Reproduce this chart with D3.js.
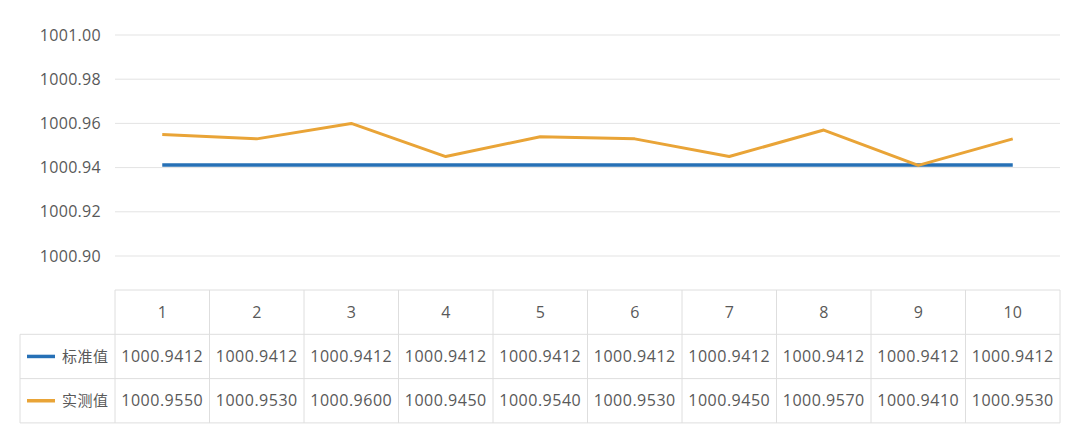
<!DOCTYPE html>
<html>
<head>
<meta charset="utf-8">
<script src="https://cdn.jsdelivr.net/npm/d3@7"></script>
<style>
  body { margin: 0; background: #fff; }
  svg text { font-family: "Open Sans", "Noto Sans CJK SC", sans-serif; fill: #595959; }
</style>
</head>
<body>
<div class="chart"></div>
<script>
// chart data
var categories = ['1', '2', '3', '4', '5', '6', '7', '8', '9', '10'];
var standardVals = [1000.9412, 1000.9412, 1000.9412, 1000.9412, 1000.9412, 1000.9412, 1000.9412, 1000.9412, 1000.9412, 1000.9412];
var measuredVals = [1000.9550, 1000.9530, 1000.9600, 1000.9450, 1000.9540, 1000.9530, 1000.9450, 1000.9570, 1000.9410, 1000.9530];
var yTicks = [1000.90, 1000.92, 1000.94, 1000.96, 1000.98, 1001.00];
var seriesNames = ['标准值', '实测值'];
var seriesColors = ['#2670b6', '#e9a437'];

var w = 1080, h = 447;
var left = 115, right = 1060;
var tableTop = 290, rowH = 44.3;

var svg = d3.select('.chart')
	.append('svg')
	.attr('width', w)
	.attr('height', h);

var x = d3.scaleBand()
	.domain(categories)
	.range([left, right]);

var y = d3.scaleLinear()
	.domain([1000.90, 1001.00])
	.range([256, 35]);

// gridlines
svg.selectAll('line.grid')
	.data(yTicks)
	.enter()
	.append('line')
	.attr('class', 'grid')
	.attr('x1', left)
	.attr('x2', right)
	.attr('y1', function(d){ return y(d); })
	.attr('y2', function(d){ return y(d); })
	.style('stroke', '#e3e3e3')
	.style('stroke-width', 1);

svg.selectAll('text.ytick')
	.data(yTicks)
	.enter()
	.append('text')
	.attr('class', 'ytick')
	.attr('x', 101)
	.attr('y', function(d){ return y(d); })
	.attr('dy', '0.35em')
	.attr('text-anchor', 'end')
	.style('font-size', '16px')
	.style('letter-spacing', '0.3px')
	.text(function(d){ return d3.format('.2f')(d); });

// lines
var line = d3.line()
	.x(function(d, i){ return x(categories[i]) + x.bandwidth() / 2; })
	.y(function(d){ return y(d); });

[standardVals, measuredVals].forEach(function(vals, k){
	svg.append('path')
		.datum(vals)
		.attr('d', line)
		.style('fill', 'none')
		.style('stroke', seriesColors[k])
		.style('stroke-width', k === 0 ? 3.5 : 3)
		.style('stroke-linejoin', 'round');
});

// data table
var tableBottom = tableTop + rowH * 3;
var tb = svg.append('g').attr('class', 'table');
var borderCol = '#dedede';

// horizontal borders
[tableTop, tableTop + rowH, tableTop + rowH * 2, tableBottom].forEach(function(yy, i){
	tb.append('line')
		.attr('x1', i === 0 ? left : 20)
		.attr('x2', right)
		.attr('y1', yy).attr('y2', yy)
		.style('stroke', borderCol);
});
// vertical borders
var xs = categories.map(function(c){ return x(c); }).concat([right]);
xs.forEach(function(xx){
	tb.append('line')
		.attr('x1', xx).attr('x2', xx)
		.attr('y1', tableTop).attr('y2', tableBottom)
		.style('stroke', borderCol);
});
tb.append('line')
	.attr('x1', 20).attr('x2', 20)
	.attr('y1', tableTop + rowH).attr('y2', tableBottom)
	.style('stroke', borderCol);

// header row
tb.selectAll('text.cat')
	.data(categories)
	.enter()
	.append('text')
	.attr('class', 'cat')
	.attr('x', function(d){ return x(d) + x.bandwidth() / 2; })
	.attr('y', tableTop + rowH / 2)
	.attr('dy', '0.35em')
	.attr('text-anchor', 'middle')
	.style('font-size', '16px')
	.text(function(d){ return d; });

[standardVals, measuredVals].forEach(function(vals, k){
	var cy = tableTop + rowH * (k + 1) + rowH / 2;
	tb.append('line')
		.attr('x1', 27).attr('x2', 55)
		.attr('y1', cy).attr('y2', cy)
		.style('stroke', seriesColors[k])
		.style('stroke-width', 3.5);
	tb.append('text')
		.attr('x', 62)
		.attr('y', cy)
		.attr('dy', '0.35em')
		.style('font-size', '15px')
		.style('letter-spacing', '0.5px')
		.style('font-family', '"Noto Sans CJK SC", sans-serif')
		.text(seriesNames[k]);
	tb.selectAll('text.v' + k)
		.data(vals)
		.enter()
		.append('text')
		.attr('class', 'v' + k)
		.attr('x', function(d, i){ return x(categories[i]) + x.bandwidth() / 2; })
		.attr('y', cy)
		.attr('dy', '0.35em')
		.attr('text-anchor', 'middle')
		.style('font-size', '16px')
		.style('letter-spacing', '0.5px')
		.text(function(d){ return d3.format('.4f')(d); });
});
</script>
</body>
</html>
